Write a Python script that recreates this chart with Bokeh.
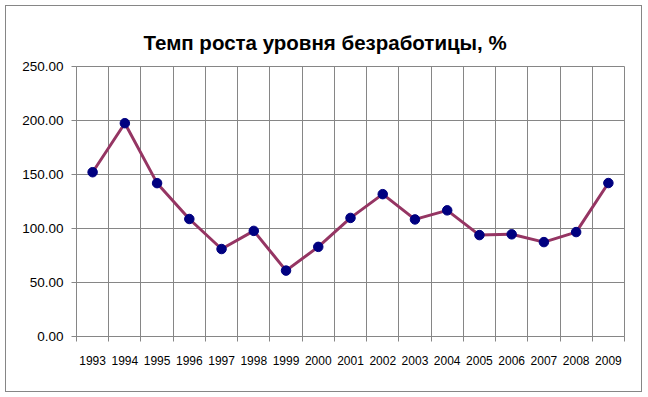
from bokeh.plotting import figure
from bokeh.models import FixedTicker, NumeralTickFormatter, Range1d
from bokeh.embed import file_html
from bokeh.resources import INLINE

years = ["1993", "1994", "1995", "1996", "1997", "1998", "1999", "2000", "2001",
         "2002", "2003", "2004", "2005", "2006", "2007", "2008", "2009"]
rates = [152.1, 197.5, 142.0, 108.8, 81.0, 97.8, 61.0, 83.0, 109.8,
         131.8, 108.4, 116.8, 93.9, 94.6, 87.4, 96.7, 142.1]
y_ticks = [0, 50, 100, 150, 200, 250]
title_text = "Темп роста уровня безработицы, %"

GRAY = "#868686"
FONT = "Liberation Sans"

x = [i + 0.5 for i in range(len(years))]

p = figure(width=647, height=397, output_backend="svg", toolbar_location=None,
           x_range=Range1d(0, len(years)), y_range=Range1d(y_ticks[0], y_ticks[-1]),
           min_border_left=76, min_border_right=23, min_border_top=66, min_border_bottom=61,
           title=title_text)
p.background_fill_color = "white"
p.border_fill_color = None
p.outline_line_color = GRAY
p.styles = {"outline": "1px solid #868686", "outline-offset": "-6px", "background": "white"}

p.title.align = "left"
p.title.vertical_align = "top"
p.title.text_font = FONT
p.title.text_font_size = "20.5px"
p.title.text_font_style = "bold"
p.title.text_color = "black"
p.title.offset = 67
p.title.standoff = 21

# x axis: labels at category centres, tick marks at category boundaries
p.xaxis.ticker = FixedTicker(ticks=x, minor_ticks=list(range(len(years) + 1)))
p.xaxis.major_label_overrides = {xi: yr for xi, yr in zip(x, years)}
p.xaxis.major_tick_out = 0
p.xaxis.major_tick_in = 0
p.xaxis.minor_tick_out = 5
p.xaxis.minor_tick_in = 0
p.xaxis.minor_tick_line_color = GRAY
p.xaxis.axis_line_color = GRAY
p.xaxis.major_label_text_font = FONT
p.xaxis.major_label_text_font_size = "12px"
p.xaxis.major_label_text_color = "black"
p.xaxis.major_label_standoff = 14

p.yaxis.ticker = FixedTicker(ticks=y_ticks)
p.yaxis.formatter = NumeralTickFormatter(format="0.00")
p.yaxis.major_tick_out = 5
p.yaxis.major_tick_in = 0
p.yaxis.minor_tick_line_color = None
p.yaxis.major_tick_line_color = GRAY
p.yaxis.axis_line_color = GRAY
p.yaxis.major_label_text_font = FONT
p.yaxis.major_label_text_font_size = "13.5px"
p.yaxis.major_label_text_color = "black"
p.yaxis.major_label_standoff = 8

p.xgrid.grid_line_color = None
p.xgrid.minor_grid_line_color = GRAY
p.ygrid.grid_line_color = GRAY

p.line(x, rates, line_color="#953563", line_width=3)
p.scatter(x, rates, size=9.5, fill_color="#000080", line_color="#000080")

open("out.html", "w").write(file_html(p, INLINE))
